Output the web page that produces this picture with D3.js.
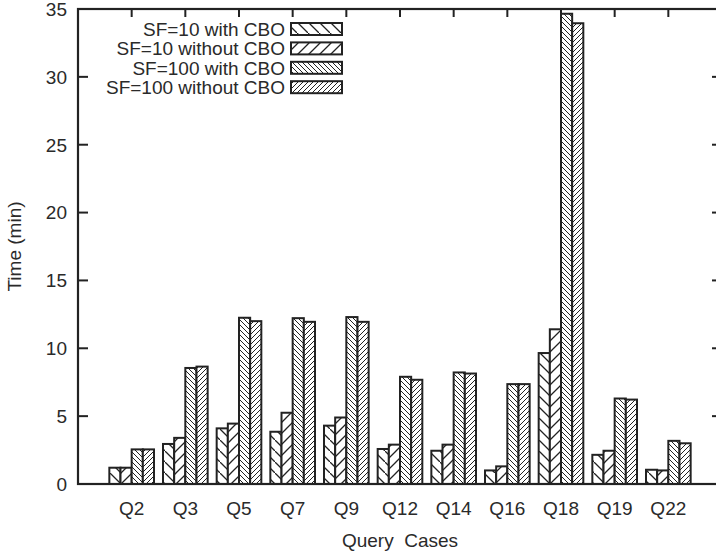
<!DOCTYPE html>
<html>
<head>
<meta charset="utf-8">
<script src="https://cdn.jsdelivr.net/npm/d3@7/dist/d3.min.js"></script>
<style>
  html, body { margin: 0; padding: 0; background: #fff; }
  svg { display: block; }
  text { font-family: "Liberation Sans", Arial, sans-serif; fill: #2a2a2a; }
</style>
</head>
<body>
<svg id="chart" width="716" height="558"></svg>
<script>
// ---- data ----
const categories = ["Q2", "Q3", "Q5", "Q7", "Q9", "Q12", "Q14", "Q16", "Q18", "Q19", "Q22"];
const seriesNames = ["SF=10 with CBO", "SF=10 without CBO", "SF=100 with CBO", "SF=100 without CBO"];
const sf10With     = [1.2, 2.95, 4.1, 3.85, 4.3, 2.58, 2.45, 1.0, 9.65, 2.15, 1.05];
const sf10Without  = [1.2, 3.4, 4.45, 5.25, 4.9, 2.9, 2.9, 1.3, 11.4, 2.45, 1.0];
const sf100With    = [2.55, 8.55, 12.25, 12.22, 12.3, 7.9, 8.22, 7.36, 34.65, 6.3, 3.18];
const sf100Without = [2.55, 8.65, 12.0, 11.95, 11.95, 7.68, 8.14, 7.36, 33.95, 6.22, 3.0];
const yTicks = [0, 5, 10, 15, 20, 25, 30, 35];
const xTitle = "Query  Cases";
const yTitle = "Time (min)";

const seriesValues = [sf10With, sf10Without, sf100With, sf100Without];

// ---- layout ----
const svg = d3.select("#chart");
const L = 78, R = 722, T = 9, B = 484;
const ink = "#222";

const x = d3.scaleLinear().domain([-1, categories.length]).range([L, R]);
const y = d3.scaleLinear().domain([0, 35]).range([B, T]);
const barW = 0.208; // in category units
const off = d3.scaleLinear().domain([0, 4]).range([-2 * barW, 2 * barW]);

// ---- patterns ----
const defs = svg.append("defs");
function hatch(id, p, dir, sw) {
  const pat = defs.append("pattern")
    .attr("id", id).attr("patternUnits", "userSpaceOnUse")
    .attr("width", p).attr("height", p);
  pat.append("rect").attr("width", p).attr("height", p).attr("fill", "#fff");
  const d = dir === "back"
    ? `M-1,-1 L1,1 M0,0 L${p},${p} M${p - 1},${p - 1} L${p + 1},${p + 1}`
    : `M-1,1 L1,-1 M0,${p} L${p},0 M${p - 1},${p + 1} L${p + 1},${p - 1}`;
  pat.append("path").attr("d", d).attr("stroke", ink).attr("stroke-width", sw).attr("fill", "none");
}
hatch("p0", 11, "back", 1.3);
hatch("p1", 11, "fwd", 1.3);
hatch("p2", 5, "back", 1.0);
hatch("p3", 5, "fwd", 1.0);

// ---- ticks ----
const g = svg.append("g");
g.selectAll("line.yl").data(yTicks).enter().append("line")
  .attr("x1", L).attr("x2", L + 10).attr("y1", d => y(d)).attr("y2", d => y(d))
  .attr("stroke", ink).attr("stroke-width", 2);
g.selectAll("line.yr").data(yTicks).enter().append("line")
  .attr("x1", R - 10).attr("x2", R).attr("y1", d => y(d)).attr("y2", d => y(d))
  .attr("stroke", ink).attr("stroke-width", 2);
g.selectAll("line.xt").data(categories).enter().append("line")
  .attr("x1", (d, i) => x(i)).attr("x2", (d, i) => x(i)).attr("y1", T).attr("y2", T + 8)
  .attr("stroke", ink).attr("stroke-width", 2);
g.selectAll("line.xb").data(categories).enter().append("line")
  .attr("x1", (d, i) => x(i)).attr("x2", (d, i) => x(i)).attr("y1", B).attr("y2", B - 8)
  .attr("stroke", ink).attr("stroke-width", 2);

// ---- bars ----
seriesValues.forEach((vals, s) => {
  svg.append("g").selectAll("rect").data(vals).enter().append("rect")
    .attr("x", (d, i) => x(i + off(s)))
    .attr("width", x(barW) - x(0))
    .attr("y", d => y(d))
    .attr("height", d => B - y(d))
    .attr("fill", `url(#p${s})`)
    .attr("stroke", ink).attr("stroke-width", 2);
});

// ---- frame ----
svg.append("rect").attr("x", L).attr("y", T).attr("width", R - L).attr("height", B - T)
  .attr("fill", "none").attr("stroke", ink).attr("stroke-width", 2.2);

// ---- tick labels ----
svg.append("g").selectAll("text").data(yTicks).enter().append("text")
  .attr("x", 67).attr("y", d => y(d)).attr("dy", "0.36em")
  .attr("text-anchor", "end").attr("font-size", 19).text(d => d);
svg.append("g").selectAll("text").data(categories).enter().append("text")
  .attr("x", (d, i) => x(i)).attr("y", 515)
  .attr("text-anchor", "middle").attr("font-size", 19).text(d => d);

// ---- axis titles ----
svg.append("text").attr("x", (L + R) / 2).attr("y", 547).attr("text-anchor", "middle")
  .attr("font-size", 19).style("white-space", "pre").text(xTitle);
svg.append("text").attr("transform", `translate(21,${(T + B) / 2}) rotate(-90)`)
  .attr("text-anchor", "middle").attr("font-size", 19).text(yTitle);

// ---- legend ----
const lg = svg.append("g");
seriesNames.forEach((name, s) => {
  const cy = 29 + s * 19.4;
  lg.append("text").attr("x", 285).attr("y", cy).attr("dy", "0.36em")
    .attr("text-anchor", "end").attr("font-size", 19).text(name);
  lg.append("rect").attr("x", 291).attr("y", cy - 6).attr("width", 51).attr("height", 12)
    .attr("fill", `url(#p${s})`).attr("stroke", ink).attr("stroke-width", 2);
});
</script>
</body>
</html>
